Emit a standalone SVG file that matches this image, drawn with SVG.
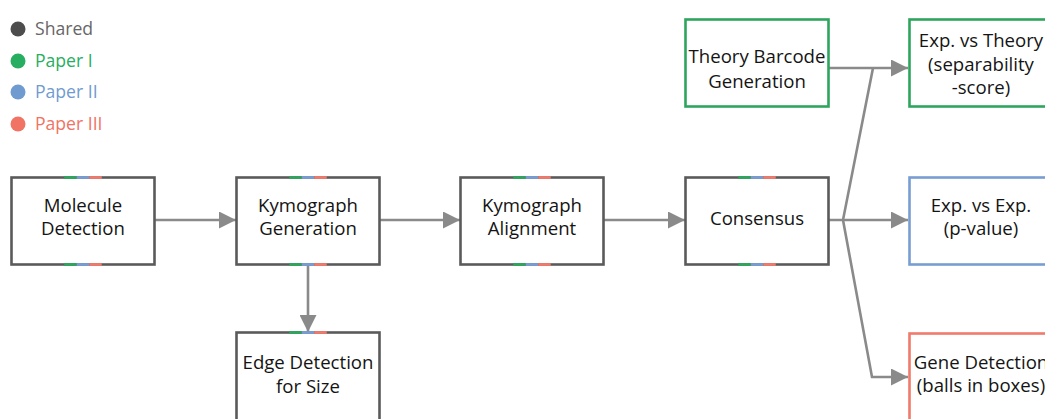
<svg xmlns="http://www.w3.org/2000/svg" width="1045" height="419" viewBox="0 0 1045 419">
<style>
.box{fill:#fff;stroke:#5a5a5a;stroke-width:2.6}
.g{stroke:#2ea55c}.b{stroke:#789dd3}.r{stroke:#f07a6c}
.cb{fill:#fff;stroke-width:2.6}
.t{font-family:"Open Sans","Noto Sans",sans-serif;font-size:18.6px;fill:#141414;text-anchor:middle}
.lg{font-family:"Open Sans","Noto Sans",sans-serif;font-size:17.6px}
.c{fill:none;stroke:#8a8a8a;stroke-width:2.6}
.sg{fill:#2ea55c}.sb{fill:#789dd3}.sr{fill:#f07a6c}
</style>
<defs>
<marker id="ah" markerUnits="userSpaceOnUse" markerWidth="18" markerHeight="17" refX="17" refY="8.5" orient="auto">
<path d="M0,0 L17,8.5 L0,17 z" fill="#8a8a8a"/>
</marker>
<g id="strip">
<rect x="-18.75" y="-1.4" width="12.5" height="2.8" class="sg"/>
<rect x="-6.25" y="-1.4" width="12.5" height="2.8" class="sb"/>
<rect x="6.25" y="-1.4" width="12.5" height="2.8" class="sr"/>
</g>
</defs>
<g id="legend">
<circle cx="18" cy="29" r="7.5" fill="#4d4d4d"/>
<text class="lg" x="35" y="35" fill="#666">Shared</text>
<circle cx="18" cy="61" r="7.5" fill="#27ae60"/>
<text class="lg" x="35" y="67" fill="#27ae60">Paper I</text>
<circle cx="18" cy="92" r="7.5" fill="#6f9bd1"/>
<text class="lg" x="35" y="98" fill="#6f9bd1">Paper II</text>
<circle cx="18" cy="124" r="7.5" fill="#f07364"/>
<text class="lg" x="35" y="130" fill="#f07364">Paper III</text>
</g>
<g id="connectors">
<line class="c" x1="155" y1="220" x2="236" y2="220" marker-end="url(#ah)"/>
<line class="c" x1="380" y1="220" x2="460" y2="220" marker-end="url(#ah)"/>
<line class="c" x1="604" y1="220" x2="685" y2="220" marker-end="url(#ah)"/>
<line class="c" x1="308" y1="264" x2="308" y2="332" marker-end="url(#ah)"/>
<line class="c" x1="828" y1="68" x2="908" y2="68" marker-end="url(#ah)"/>
<polyline class="c" points="828,220 843,220 873,68"/>
<line class="c" x1="843" y1="220" x2="908" y2="220" marker-end="url(#ah)"/>
<polyline class="c" points="843,220 872,377 908,377" marker-end="url(#ah)"/>
</g>
<g id="molecule-detection">
<rect class="box" x="11.5" y="177.5" width="143" height="87"/>
<use href="#strip" x="83" y="177.5"/><use href="#strip" x="83" y="264.5"/>
<text class="t" x="83" y="212">Molecule</text>
<text class="t" x="83" y="235">Detection</text>
</g>
<g id="kymograph-generation">
<rect class="box" x="236.5" y="177.5" width="143" height="87"/>
<use href="#strip" x="308" y="177.5"/><use href="#strip" x="308" y="264.5"/>
<text class="t" x="308" y="212">Kymograph</text>
<text class="t" x="308" y="235">Generation</text>
</g>
<g id="kymograph-alignment">
<rect class="box" x="460.5" y="177.5" width="143" height="87"/>
<use href="#strip" x="532" y="177.5"/><use href="#strip" x="532" y="264.5"/>
<text class="t" x="532" y="212">Kymograph</text>
<text class="t" x="532" y="235">Alignment</text>
</g>
<g id="consensus">
<rect class="box" x="685.5" y="177.5" width="143" height="87"/>
<use href="#strip" x="757" y="177.5"/><use href="#strip" x="757" y="264.5"/>
<text class="t" x="757" y="225">Consensus</text>
</g>
<g id="edge-detection">
<rect class="box" x="236.5" y="332.5" width="143" height="100"/>
<use href="#strip" x="308" y="332.5"/>
<text class="t" x="308" y="369">Edge Detection</text>
<text class="t" x="308" y="393">for Size</text>
</g>
<g id="theory-barcode">
<rect class="cb g" x="685.5" y="19.5" width="143" height="87"/>
<text class="t" x="757" y="63">Theory Barcode</text>
<text class="t" x="757" y="88">Generation</text>
</g>
<g id="exp-vs-theory">
<rect class="cb g" x="909.5" y="19.5" width="143" height="87"/>
<text class="t" x="981" y="47">Exp. vs Theory</text>
<text class="t" x="981" y="71">(separability</text>
<text class="t" x="981" y="94">-score)</text>
</g>
<g id="exp-vs-exp">
<rect class="cb b" x="909.5" y="177.5" width="143" height="87"/>
<text class="t" x="981" y="212">Exp. vs Exp.</text>
<text class="t" x="981" y="235">(p-value)</text>
</g>
<g id="gene-detection">
<rect class="cb r" x="909.5" y="333.5" width="143" height="100"/>
<text class="t" x="981" y="369">Gene Detection</text>
<text class="t" x="981" y="392">(balls in boxes)</text>
</g>
</svg>
